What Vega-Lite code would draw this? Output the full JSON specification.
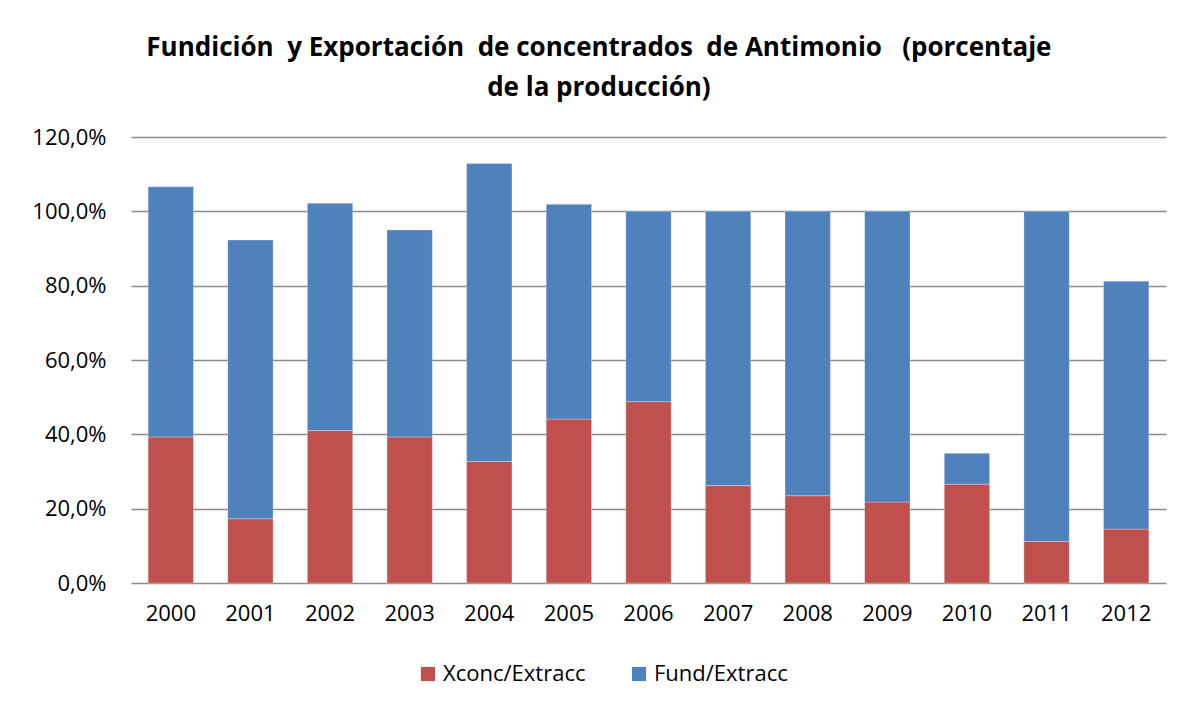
{
  "$schema": "https://vega.github.io/schema/vega-lite/v6.json",
  "autosize": {"type": "none"},
  "padding": {"left": 131, "top": 137, "right": 12, "bottom": 129},
  "width": 1035,
  "height": 446,
  "background": "#ffffff",
  "title": {
    "text": ["Fundición\u00a0 y Exportación\u00a0 de concentrados\u00a0 de Antimonio\u00a0\u00a0 (porcentaje", "de la producción)"],
    "anchor": "middle",
    "frame": "bounds",
    "font": "Open Sans",
    "fontSize": 26,
    "fontWeight": "bold",
    "color": "#000000",
    "lineHeight": 40,
    "offset": 25
  },
  "data": {
    "values": [
      {"year": "2000", "serie": "Xconc/Extracc", "ord": 1, "valor": 39.3},
      {"year": "2001", "serie": "Xconc/Extracc", "ord": 1, "valor": 17.3},
      {"year": "2002", "serie": "Xconc/Extracc", "ord": 1, "valor": 41.0},
      {"year": "2003", "serie": "Xconc/Extracc", "ord": 1, "valor": 39.3},
      {"year": "2004", "serie": "Xconc/Extracc", "ord": 1, "valor": 32.7},
      {"year": "2005", "serie": "Xconc/Extracc", "ord": 1, "valor": 44.1},
      {"year": "2006", "serie": "Xconc/Extracc", "ord": 1, "valor": 48.8},
      {"year": "2007", "serie": "Xconc/Extracc", "ord": 1, "valor": 26.2},
      {"year": "2008", "serie": "Xconc/Extracc", "ord": 1, "valor": 23.5},
      {"year": "2009", "serie": "Xconc/Extracc", "ord": 1, "valor": 21.8},
      {"year": "2010", "serie": "Xconc/Extracc", "ord": 1, "valor": 26.6},
      {"year": "2011", "serie": "Xconc/Extracc", "ord": 1, "valor": 11.2},
      {"year": "2012", "serie": "Xconc/Extracc", "ord": 1, "valor": 14.5},
      {"year": "2000", "serie": "Fund/Extracc", "ord": 2, "valor": 67.3},
      {"year": "2001", "serie": "Fund/Extracc", "ord": 2, "valor": 75.0},
      {"year": "2002", "serie": "Fund/Extracc", "ord": 2, "valor": 61.2},
      {"year": "2003", "serie": "Fund/Extracc", "ord": 2, "valor": 55.7},
      {"year": "2004", "serie": "Fund/Extracc", "ord": 2, "valor": 80.2},
      {"year": "2005", "serie": "Fund/Extracc", "ord": 2, "valor": 57.8},
      {"year": "2006", "serie": "Fund/Extracc", "ord": 2, "valor": 51.2},
      {"year": "2007", "serie": "Fund/Extracc", "ord": 2, "valor": 73.8},
      {"year": "2008", "serie": "Fund/Extracc", "ord": 2, "valor": 76.5},
      {"year": "2009", "serie": "Fund/Extracc", "ord": 2, "valor": 78.2},
      {"year": "2010", "serie": "Fund/Extracc", "ord": 2, "valor": 8.3},
      {"year": "2011", "serie": "Fund/Extracc", "ord": 2, "valor": 88.8},
      {"year": "2012", "serie": "Fund/Extracc", "ord": 2, "valor": 66.7}
    ]
  },
  "mark": {"type": "bar", "stroke": "#ffffff", "strokeOpacity": 0.5, "strokeWidth": 0.6},
  "encoding": {
    "x": {
      "field": "year",
      "type": "ordinal",
      "scale": {"paddingInner": 0.43, "paddingOuter": 0.215},
      "axis": {
        "title": null,
        "labelAngle": 0,
        "labelFont": "Open Sans",
        "labelFontSize": 22,
        "labelColor": "#000000",
        "labelPadding": 20,
        "ticks": false,
        "domain": false,
        "grid": false
      }
    },
    "y": {
      "field": "valor",
      "type": "quantitative",
      "stack": "zero",
      "scale": {"domain": [0, 120], "nice": false},
      "axis": {
        "title": null,
        "values": [0, 20, 40, 60, 80, 100, 120],
        "labelExpr": "replace(format(datum.value, '.1f'), '.', ',') + '%'",
        "labelFont": "Open Sans",
        "labelFontSize": 22,
        "labelColor": "#000000",
        "labelPadding": 25,
        "ticks": false,
        "domain": false,
        "grid": true,
        "gridColor": "#8c8c8c",
        "gridWidth": 1.5
      }
    },
    "color": {
      "field": "serie",
      "type": "nominal",
      "scale": {"domain": ["Xconc/Extracc", "Fund/Extracc"], "range": ["#C0504D", "#4F81BD"]},
      "legend": {
        "title": null,
        "orient": "none",
        "legendX": 286,
        "legendY": 526,
        "direction": "horizontal",
        "symbolType": "square",
        "symbolSize": 200,
        "symbolStrokeWidth": 0,
        "labelFont": "Open Sans",
        "labelFontSize": 22,
        "labelColor": "#000000",
        "columnPadding": 42
      }
    },
    "order": {"field": "ord", "type": "quantitative"}
  },
  "config": {
    "view": {"stroke": null}
  }
}
